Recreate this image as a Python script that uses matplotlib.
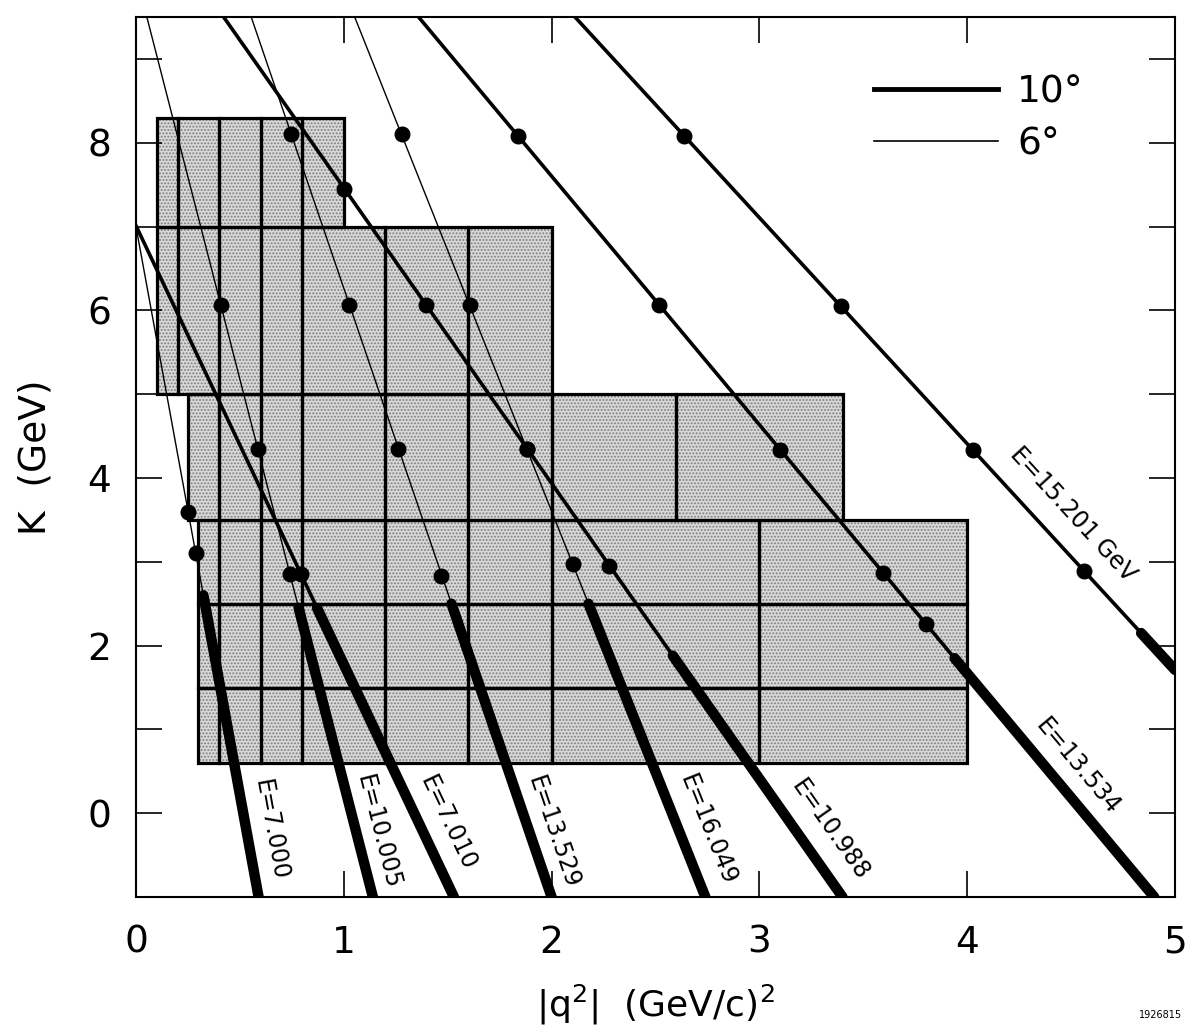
import numpy as np
import matplotlib
matplotlib.use("Agg")
import matplotlib.pyplot as plt
from matplotlib.patches import Rectangle
from matplotlib.lines import Line2D

plt.rcParams['font.family'] = 'DejaVu Sans'
plt.rcParams['mathtext.default'] = 'regular'
plt.rcParams['hatch.linewidth'] = 0.9

# kinematic lines: beam energy (GeV), angle (deg), end point, start of bold part
energy = [7.000, 10.005, 13.529, 16.049, 7.010, 10.988, 13.534, 15.201]
angle = [6, 6, 6, 6, 10, 10, 10, 10]
q2_end = [0.59, 1.14, 2.00, 2.74, 1.53, 3.40, 4.90, 5.00]
k_end = [-1, -1, -1, -1, -1, -1, -1, 1.71]
k_bold = [2.6, 2.45, 2.5, 2.5, 2.45, 1.88, 1.85, 2.15]
labels = ['E=7.000', 'E=10.005', 'E=13.529', 'E=16.049',
          'E=7.010', 'E=10.988', 'E=13.534', 'E=15.201 GeV']

# measured points on each line
dot_q2 = [[0.251, 0.287],
          [0.409, 0.586, 0.740],
          [0.746, 1.026, 1.261, 1.470],
          [1.278, 1.606, 1.881, 2.103],
          [0.794],
          [1.003, 1.397, 1.882, 2.278],
          [1.839, 2.517, 3.101, 3.597, 3.802],
          [2.639, 3.392, 4.026, 4.563]]
dot_k = [[3.6, 3.1],
         [6.06, 4.35, 2.86],
         [8.1, 6.06, 4.35, 2.83],
         [8.1, 6.06, 4.35, 2.97],
         [2.86],
         [7.45, 6.06, 4.35, 2.95],
         [8.08, 6.07, 4.34, 2.87, 2.26],
         [8.08, 6.05, 4.34, 2.89]]

# binning in K and |q^2|
bin_k_lo = [7.0, 5.0, 3.5, 2.5, 1.5, 0.6]
bin_k_hi = [8.3, 7.0, 5.0, 3.5, 2.5, 1.5]
low_edges = [0.3, 0.4, 0.6, 0.8, 1.2, 1.6, 2.0, 3.0, 4.0]
bin_q2_edges = [[0.1, 0.2, 0.4, 0.6, 0.8, 1.0],
                [0.1, 0.2, 0.4, 0.6, 0.8, 1.2, 1.6, 2.0],
                [0.25, 0.4, 0.6, 0.8, 1.2, 1.6, 2.0, 2.6, 3.4],
                low_edges, low_edges, low_edges]

# where the E labels sit
label_pos = [(0.65, -0.2), (1.165, -0.23), (2.01, -0.23), (2.75, -0.2),
             (1.50, -0.12), (3.34, -0.2), (4.53, 0.56), (4.51, 3.57)]

fig = plt.figure(figsize=(11.94, 10.35), dpi=100)
ax = fig.add_axes([0.1139, 0.1333, 0.8702, 0.8502])
ax.set_xlim(0, 5)
ax.set_ylim(-1, 9.5)

for lo, hi, edges in zip(bin_k_lo, bin_k_hi, bin_q2_edges):
    for a, b in zip(edges[:-1], edges[1:]):
        ax.add_patch(Rectangle((a, lo), b - a, hi - lo, facecolor='#d8d8d8',
                               edgecolor='#7c7c7c', hatch='.....', lw=0, zorder=1))
        ax.add_patch(Rectangle((a, lo), b - a, hi - lo, fill=False,
                               edgecolor='black', lw=2.3, zorder=2))

for i in range(len(energy)):
    lw = 2.6 if angle[i] == 10 else 1.0
    ax.plot([0, q2_end[i]], [energy[i], k_end[i]], color='k', lw=lw, zorder=3)
    qb = np.interp(k_bold[i], [k_end[i], energy[i]], [q2_end[i], 0])
    ax.plot([qb, q2_end[i]], [k_bold[i], k_end[i]], color='k', lw=7.5,
            solid_capstyle='round', zorder=4)
    ax.plot(dot_q2[i], dot_k[i], 'o', color='k', ms=10.5, zorder=5)

    p0 = ax.transData.transform((0, energy[i]))
    p1 = ax.transData.transform((q2_end[i], k_end[i]))
    rot = np.degrees(np.arctan2(p1[1] - p0[1], p1[0] - p0[0]))
    ax.text(label_pos[i][0], label_pos[i][1], labels[i], rotation=rot,
            rotation_mode='anchor', ha='center', va='center', fontsize=17, zorder=6)

ax.set_xticks([0, 1, 2, 3, 4, 5])
ax.set_yticks([0, 2, 4, 6, 8])
ax.set_yticks([1, 3, 5, 7, 9], minor=True)
ax.tick_params(which='both', direction='in', length=19, width=1.2,
               top=True, right=True, labelsize=27)
ax.tick_params(axis='x', pad=20)
ax.tick_params(axis='y', pad=18)
for s in ax.spines.values():
    s.set_linewidth(1.5)

ax.set_xlabel('|q$^2$|  (GeV/c)$^2$', fontsize=26, labelpad=16)
ax.set_ylabel('K  (GeV)', fontsize=27, labelpad=24)

handles = [Line2D([], [], color='k', lw=3.5, label='10°'),
           Line2D([], [], color='k', lw=1.2, label='6°')]
ax.legend(handles=handles, loc='upper right', bbox_to_anchor=(0.912, 0.935),
          frameon=False, fontsize=27, handlelength=3.3, handletextpad=0.5,
          labelspacing=0.42, borderpad=0, borderaxespad=0)

fig.text(0.99, 0.016, '1926815', ha='right', fontsize=7)

fig.savefig('out.png', dpi=100)
